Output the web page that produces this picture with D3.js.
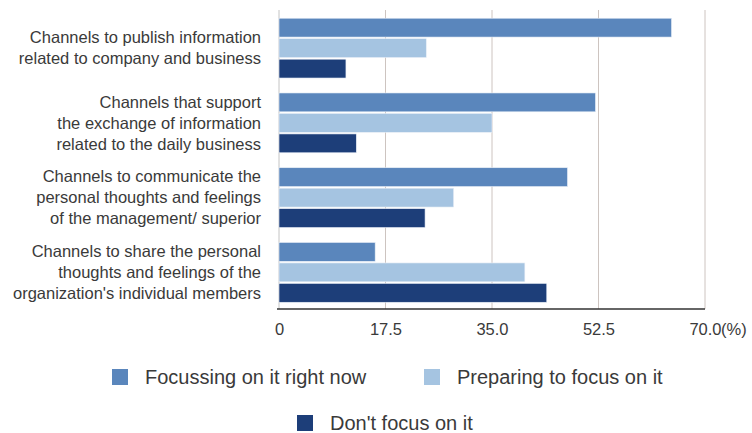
<!DOCTYPE html>
<html>
<head>
<meta charset="utf-8">
<script src="https://cdn.jsdelivr.net/npm/d3@7"></script>
<style>
  body { margin: 0; background: #fff; }
  text { font-family: "Liberation Sans", Arial, sans-serif; fill: #3a3a3a; }
</style>
</head>
<body>
<div id="chart"></div>
<script>
// Data
var categories = [
  ["Channels to publish information", "related to company and business"],
  ["Channels that support", "the exchange of information", "related to the daily business"],
  ["Channels to communicate the", "personal thoughts and feelings", "of the management/ superior"],
  ["Channels to share the personal", "thoughts and feelings of the", "organization's individual members"]
];
var seriesNames = ["Focussing on it right now", "Preparing to focus on it", "Don't focus on it"];
var focusing = [64.5, 52.0, 47.4, 15.8];
var preparing = [24.2, 35.0, 28.7, 40.4];
var notFocus = [11.0, 12.7, 24.0, 44.0];
var tickValues = [0, 17.5, 35, 52.5, 70];

var colors = ["#5a86bc", "#a5c4e1", "#1d3e79"];

var svgWidth = 752;
var svgHeight = 433;

var svg = d3.select("#chart")
  .append("svg")
  .attr("width", svgWidth)
  .attr("height", svgHeight);

var rows = categories.map(function(c, i) {
  return { idx: i, lines: c, values: [focusing[i], preparing[i], notFocus[i]] };
});

// Scales
var xScale = d3.scaleLinear()
  .domain([0, 70])
  .range([279, 705]);

var yScale = d3.scaleBand()
  .domain(d3.range(categories.length))
  .range([10, 309])
  .paddingInner(0.2)
  .paddingOuter(0.1)
  .align(0.55);

var innerScale = d3.scaleBand()
  .domain(d3.range(seriesNames.length))
  .range([0, yScale.bandwidth()])
  .paddingInner(0.08);

// Gridlines
svg.append("g")
  .selectAll("line")
  .data(tickValues.slice(1))
  .enter()
  .append("line")
  .attr("x1", d => xScale(d))
  .attr("x2", d => xScale(d))
  .attr("y1", 10)
  .attr("y2", 309)
  .attr("stroke", "#cdc4c0")
  .attr("stroke-width", 1);

svg.append("line")
  .attr("x1", xScale(0))
  .attr("x2", xScale(0))
  .attr("y1", 10)
  .attr("y2", 309)
  .attr("stroke", "#c4c4c4");

// Bars
var groups = svg.selectAll(".group")
  .data(rows)
  .enter()
  .append("g")
  .attr("class", "group")
  .attr("transform", d => `translate(0, ${yScale(d.idx)})`);

groups.selectAll("rect")
  .data(d => d.values)
  .enter()
  .append("rect")
  .attr("x", xScale(0))
  .attr("y", (d, i) => innerScale(i))
  .attr("width", d => xScale(d) - xScale(0))
  .attr("height", innerScale.bandwidth())
  .attr("fill", (d, i) => colors[i])
  .attr("stroke", "#e9eff7")
  .attr("stroke-width", 0.6);

// Category labels
var lineHeight = 21;
groups.each(function(d) {
  var g = d3.select(this);
  var n = d.lines.length;
  var mid = yScale.bandwidth() / 2;
  g.selectAll("text")
    .data(d.lines)
    .enter()
    .append("text")
    .attr("x", 261)
    .attr("y", (t, i) => mid + (i - (n - 1) / 2) * lineHeight)
    .attr("dy", "0.35em")
    .attr("text-anchor", "end")
    .attr("font-size", "16.5px")
    .text(t => t);
});

// X axis
var xAxis = d3.axisBottom(xScale)
  .tickValues(tickValues)
  .tickSize(0)
  .tickPadding(14)
  .tickFormat(d => d === 0 ? "0" : d.toFixed(1));

var axisG = svg.append("g")
  .attr("transform", "translate(0, 309)")
  .call(xAxis);

axisG.select(".domain")
  .attr("stroke", "#333")
  .attr("stroke-width", 1.6)
  .attr("d", `M${xScale(0) - 2},0H${xScale(70)}`);

axisG.selectAll(".tick text")
  .attr("font-size", "16.5px")
  .attr("font-family", "Liberation Sans, Arial, sans-serif")
  .attr("fill", "#3a3a3a");

svg.append("text")
  .attr("x", xScale(70) + 16)
  .attr("y", 335)
  .attr("font-size", "16.5px")
  .text("(%)");

// Legend
var legendPos = [[112, 369], [424, 369], [297, 415]];

var legend = svg.selectAll(".legend")
  .data(seriesNames)
  .enter()
  .append("g")
  .attr("class", "legend")
  .attr("transform", (d, i) => `translate(${legendPos[i][0]}, ${legendPos[i][1]})`);

legend.append("rect")
  .attr("width", 16)
  .attr("height", 16)
  .attr("fill", (d, i) => colors[i]);

legend.append("text")
  .attr("x", 33)
  .attr("y", 15)
  .attr("font-size", "20px")
  .text(d => d);
</script>
</body>
</html>
